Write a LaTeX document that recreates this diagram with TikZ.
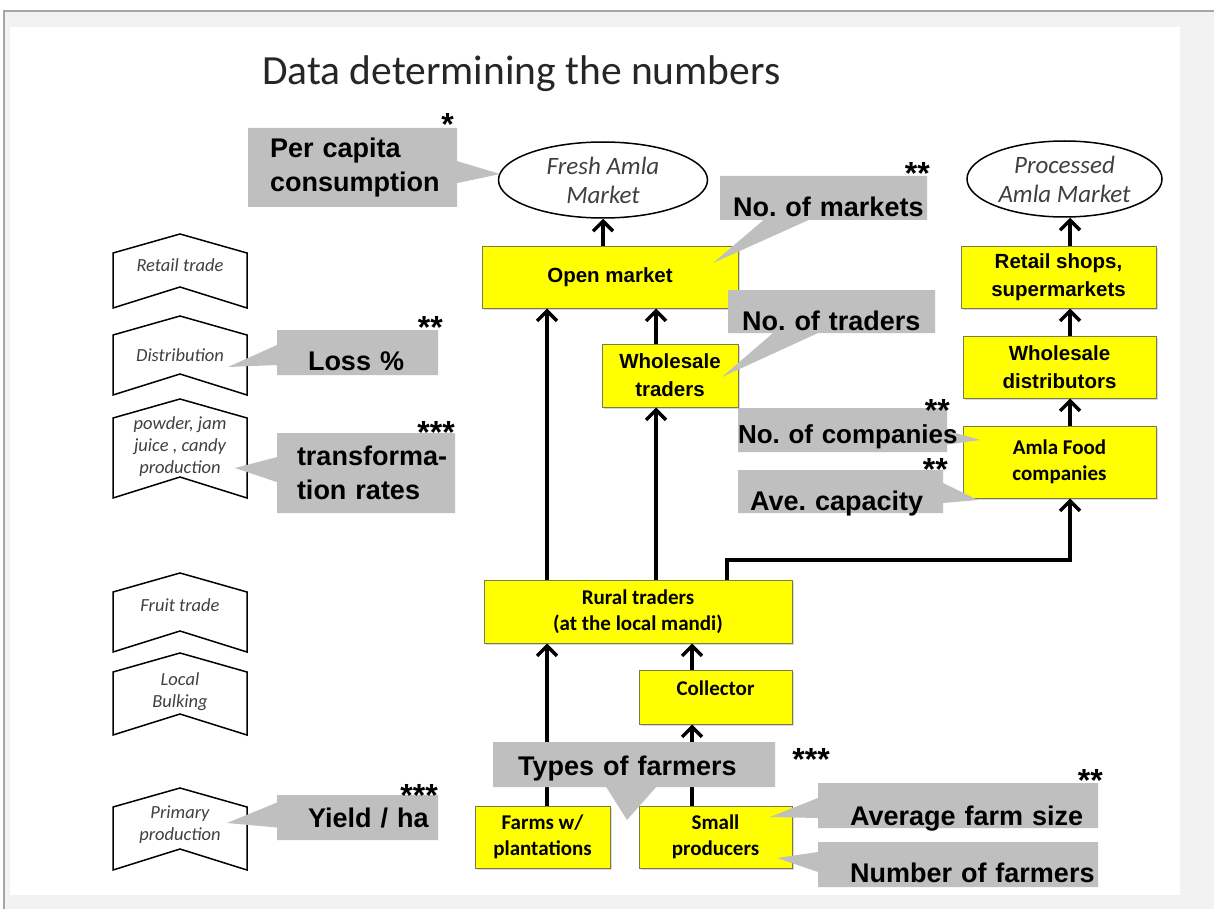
\documentclass[tikz,border=0pt]{standalone}
\usepackage{fontspec}
\setmainfont{Carlito}
\newfontfamily\arialfont{Liberation Sans}
\usepackage{tikz}
\usetikzlibrary{shapes.geometric,shapes.callouts,arrows.meta,shadows}
\frenchspacing
\definecolor{amyellow}{HTML}{FFFF00}
\definecolor{amedge}{HTML}{7A7A4A}
\definecolor{amnote}{HTML}{BFBFBF}
\definecolor{amink}{HTML}{404040}
\definecolor{ampage}{HTML}{F2F2F2}
\definecolor{amframe}{HTML}{A6A6A6}
\tikzset{
  actor/.style={rectangle,draw=amedge,line width=1pt,fill=amyellow,align=center,inner sep=0pt,
                drop shadow={shadow xshift=1.5pt,shadow yshift=-1.5pt,fill=black!30}},
  actorA/.style={actor,font=\arialfont\bfseries\fontsize{20.5}{28}\selectfont},
  actorC/.style={actor,font=\bfseries\fontsize{21}{26}\selectfont},
  market/.style={ellipse,draw=black,line width=1.5pt,fill=white,inner sep=0pt,align=center,
                 text=amink,font=\itshape\fontsize{25}{29}\selectfont},
  note/.style={rectangle callout,fill=amnote,align=left,inner xsep=0pt,inner ysep=0pt,
               font=\arialfont\bfseries\fontsize{27}{34}\selectfont},
  stars/.style={anchor=base east,inner sep=0pt,font=\arialfont\bfseries\fontsize{32}{32}\selectfont},
  tier/.style={draw=black,line width=1.5pt,fill=white},
  tiertext/.style={align=center,text=amink,inner sep=0pt,font=\itshape\fontsize{18.5}{22}\selectfont},
  flow/.style={-{Straight Barb[length=10pt,width=20pt]},line width=3.5pt},
}
\begin{document}
\begin{tikzpicture}[x=1pt,y=-1pt]
  \useasboundingbox (0,0) rectangle (1214,909);
  \fill[ampage] (4,11) rectangle (1214,909);
  \draw[amframe,line width=2pt] (4,909) -- (4,11) -- (1214,11);
  \fill[white] (10,27) rectangle (1180,895);
  \node[anchor=base west,inner sep=0pt,text=black!85,font=\fontsize{41.5}{41.5}\selectfont] (title) at (262,85)
    {Data determining the numbers};

  % value chain levels
  \foreach \c/\b in {253/308,335/395,418/498,592/652,672/735,807/870}
    \draw[tier] (113,\c) -- (180,\c-19) -- (247,\c) -- (247,\b) -- (180,\b-21) -- (113,\b) -- cycle;
  \node[tiertext] (tRetail) at (180,265) {Retail trade};
  \node[tiertext] (tDist) at (180,355) {Distribution};
  \node[tiertext] (tProd) at (180,447) {powder, jam\\juice , candy\\production};
  \node[tiertext] (tFruit) at (180,605) {Fruit trade};
  \node[tiertext] (tBulk) at (180,692) {Local\\Bulking};
  \node[tiertext] (tPrim) at (180,825) {Primary\\production};

  % actors
  \node[market,minimum width=209pt,minimum height=76pt] (fresh) at (603,180) {Fresh Amla\\Market};
  \node[market,minimum width=195pt,minimum height=76pt] (proc) at (1064.5,179) {Processed\\Amla Market};
  \node[actorA,minimum width=256pt,minimum height=62pt] (openm) at (610,277) {Open market};
  \node[actorA,minimum width=136pt,minimum height=63pt] (wtrad) at (670,375.5) {Wholesale\\traders};
  \node[actorA,minimum width=195pt,minimum height=62pt] (retail) at (1058.5,277) {Retail shops,\\supermarkets};
  \node[actorA,minimum width=193pt,minimum height=62pt] (wdist) at (1059.5,367) {Wholesale\\distributors};
  \node[actorC,minimum width=193pt,minimum height=72pt] (food) at (1059.5,462) {Amla Food\\companies};
  \node[actorC,minimum width=308pt,minimum height=63pt] (rural) at (638,611.5) {Rural traders\\(at the local mandi)};
  \node[actorC,minimum width=153pt,minimum height=54pt,text height=14pt,text depth=18pt] (collect) at (715.5,697) {Collector};
  \node[actorC,minimum width=135pt,minimum height=62pt] (farms) at (542.5,837) {Farms w/\\plantations};
  \node[actorC,minimum width=153pt,minimum height=62pt] (small) at (715.5,837) {Small\\producers};

  % flows
  \coordinate (lcol) at (547,0);
  \coordinate (wcol) at (656,0);
  \coordinate (ccol) at (692,0);
  \coordinate (bend) at (1070,560);
  \draw[flow] (openm.north -| fresh.south) -- (fresh.south);
  \draw[flow] (rural.north -| lcol) -- (openm.south -| lcol);
  \draw[flow] (wtrad.north -| wcol) -- (openm.south -| wcol);
  \draw[flow] (rural.north -| wcol) -- (wtrad.south -| wcol);
  \draw[flow] ([xshift=89pt]rural.north) |- (bend) -- (food.south -| bend);
  \draw[flow] (farms.north -| lcol) -- (rural.south -| lcol);
  \draw[flow] (small.north -| ccol) -- (collect.south -| ccol);
  \draw[flow] (collect.north -| ccol) -- (rural.south -| ccol);
  \draw[flow] (food.north -| bend) -- (wdist.south -| bend);
  \draw[flow] (wdist.north -| bend) -- (retail.south -| bend);
  \draw[flow] (retail.north -| bend) -- (proc.south -| bend);

  % data needed
  \node[note,text width=209pt,minimum height=79pt,
        callout pointer width=22pt,callout absolute pointer={(500,174)}] (cons) at (352.5,167.5)
        {\hspace*{22pt}Per capita\\\hspace*{22pt}consumption};
  \node[note,text width=207pt,text height=41pt,text depth=3pt,
        callout pointer width=45pt,callout absolute pointer={(713,263)}] (nmark) at (823.5,198)
        {\hspace*{13pt}No. of markets};
  \node[note,text width=207pt,text height=40pt,text depth=3pt,
        callout pointer width=45pt,callout absolute pointer={(722,377)}] (ntrad) at (831.5,311.5)
        {\hspace*{14pt}No. of traders};
  \node[note,text width=209pt,text height=35pt,text depth=9pt,font=\arialfont\bfseries\fontsize{26}{30}\selectfont,
        callout pointer width=14pt,callout absolute pointer={(980,440)}] (ncomp) at (842.5,430)
        {\mbox{No. of companies}};
  \node[note,text width=205pt,text height=40pt,text depth=3pt,
        callout pointer width=20pt,callout absolute pointer={(978,500)}] (acap) at (840.5,491.5)
        {\hspace*{12pt}Ave. capacity};
  \node[note,text width=161pt,text height=40pt,text depth=5pt,
        callout pointer width=20pt,callout absolute pointer={(228,367)}] (loss) at (357.5,352.5)
        {\hspace*{31pt}Loss \%};
  \node[note,text width=178pt,minimum height=80pt,
        callout pointer width=25pt,callout absolute pointer={(235,468)}] (trans) at (366,473)
        {\hspace*{20pt}transforma-\\\hspace*{20pt}tion rates};
  \node[note,text width=161pt,text height=32pt,text depth=13pt,
        callout pointer width=25pt,callout absolute pointer={(227,823)}] (yield) at (357.5,817.5)
        {\hspace*{31pt}Yield / ha};
  \node[note,text width=282pt,text height=33pt,text depth=12pt,
        callout pointer width=50pt,callout absolute pointer={(627,820)}] (types) at (634,764.5)
        {\hspace*{25pt}Types of farmers};
  \node[note,text width=280pt,text height=42pt,text depth=3pt,
        callout pointer width=20pt,callout absolute pointer={(770,817)}] (afarm) at (958,805.5)
        {\hspace*{32pt}Average farm size};
  \node[note,text width=280pt,text height=40pt,text depth=5pt,
        callout pointer width=20pt,callout absolute pointer={(777,858)}] (nfarm) at (958,864.5)
        {\hspace*{32pt}Number of farmers};

  % data quality
  \node[stars] (q1) at (454,136) {*};
  \node[stars] (q2) at (930,185) {**};
  \node[stars] (q3) at (443,338) {**};
  \node[stars] (q4) at (455,443) {***};
  \node[stars] (q5) at (950,421) {**};
  \node[stars] (q6) at (948,480) {**};
  \node[stars] (q7) at (830,770) {***};
  \node[stars] (q8) at (1103,791) {**};
  \node[stars] (q9) at (438,806) {***};
\end{tikzpicture}
\end{document}
